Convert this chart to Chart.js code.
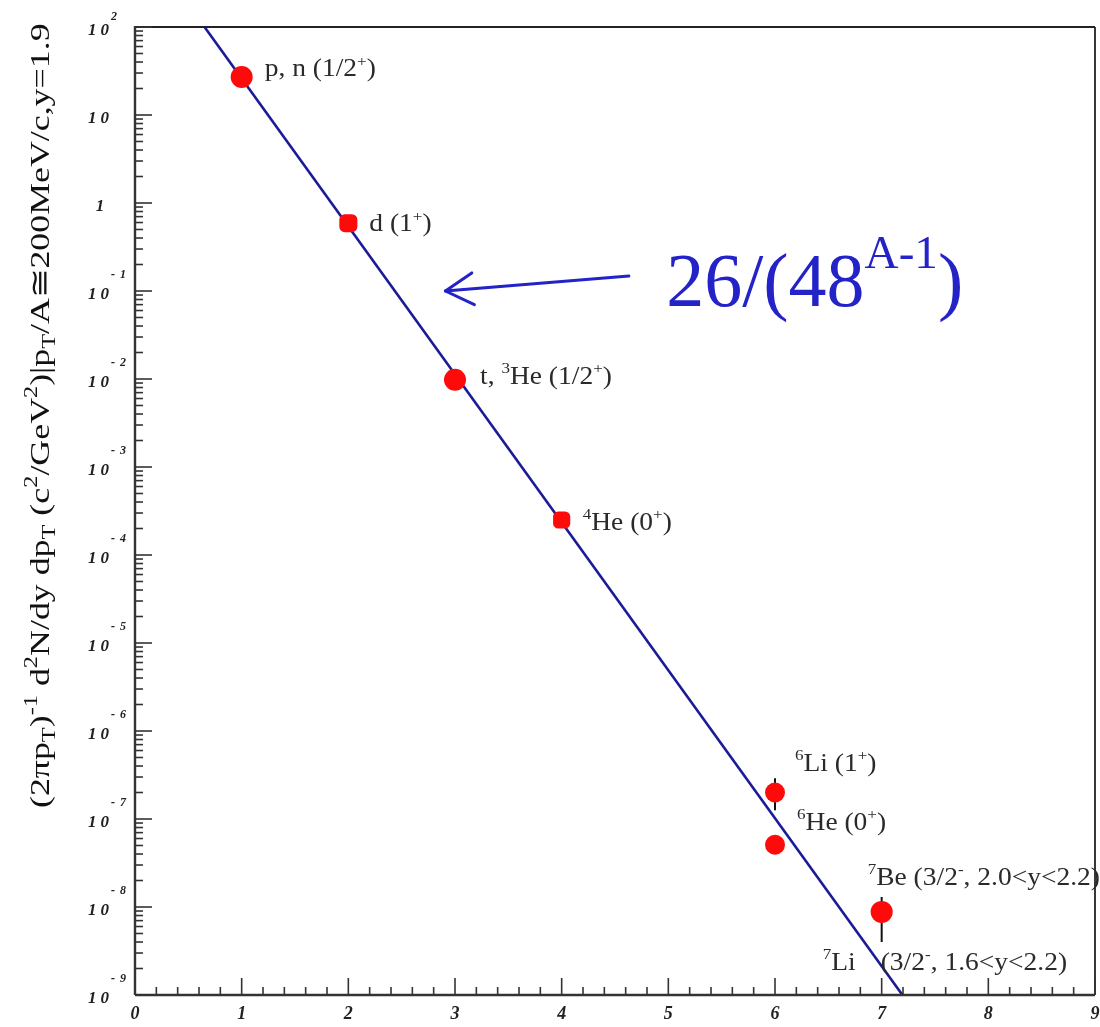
<!DOCTYPE html>
<html>
<head>
<meta charset="utf-8">
<script src="https://cdn.jsdelivr.net/npm/chart.js@4.4.1/dist/chart.umd.min.js"></script>
<style>
  html, body { margin: 0; padding: 0; background: #fff; }
  #wrap { width: 1100px; height: 1027px; }
</style>
</head>
<body>
<div id="wrap"><canvas id="chart" width="1100" height="1027"></canvas></div>
<script>
const SERIF = '"Liberation Serif", "DejaVu Serif", serif';

// measured invariant yields vs. mass number A
const massNumber = [1, 2, 3, 4, 6, 6, 7];
const yieldValues = [27, 0.59, 0.0098, 2.5e-4, 2.0e-7, 5.1e-8, 8.8e-9];
const yieldErrLow = [null, null, null, null, 1.26e-7, null, 4.0e-9];
const yieldErrHigh = [null, null, null, null, 2.9e-7, null, 1.3e-8];
const nuclideNames = [
  'p, n (1/2^{+})', 'd (1^{+})', 't, ^{3}He (1/2^{+})', '^{4}He (0^{+})',
  '^{6}Li (1^{+})', '^{6}He (0^{+})', '^{7}Be (3/2^{-}, 2.0<y<2.2)'
];

// fit 26/(48^(A-1)), drawn as a straight line on the log axis
const fitNorm = 26;
const fitBase = 48;
const fitRangeA = [0.5, 7.5];
const fitLabel = '26/(48^{A-1})';

// axis ticks
const xTickValues = [0, 1, 2, 3, 4, 5, 6, 7, 8, 9];
const xMinorPerUnit = 5;
const yDecades = [-9, -8, -7, -6, -5, -4, -3, -2, -1, 0, 1, 2];
const yMinorMultipliers = [2, 3, 4, 5, 6, 7, 8, 9];

const yTitle = '(2\u03c0p_{T})^{-1} d^{2}N/dy dp_{T} (c^{2}/GeV^{2})|p_{T}/A\u2245200MeV/c,y=1.9';

// label placement (pixels from the marker centre)
const noteOffsets = [[23, -1], [21, 8], [25, 4], [21, 10], [20, -22], [22, -15], [-14, -27]];
const extraNotes = [
  { at: 6, text: '^{7}Li', dx: -59, dy: 58 },
  { at: 6, text: '(3/2^{-}, 1.6<y<2.2)', dx: -1, dy: 58 }
];
const markerStyles = ['circle', 'rectRounded', 'circle', 'rectRounded', 'circle', 'circle', 'circle'];
const markerRadii = [11, 10.5, 11, 10, 10, 10, 11];

function fitValue(a) {
  return fitNorm / Math.pow(fitBase, a - 1);
}

function parseRich(str) {
  const segs = [];
  const re = /([\^_])\{([^}]*)\}/g;
  let last = 0, m;
  while ((m = re.exec(str))) {
    if (m.index > last) segs.push({ t: str.slice(last, m.index), k: 'n' });
    segs.push({ t: m[2], k: m[1] === '^' ? 'sup' : 'sub' });
    last = re.lastIndex;
  }
  if (last < str.length) segs.push({ t: str.slice(last), k: 'n' });
  return segs;
}

// text with ^{..} / _{..} runs; stretch widens the glyphs along the baseline
function drawRich(ctx, str, x, y, size, color, opts = {}) {
  const supScale = opts.supScale || 0.62;
  const supRise = opts.supRise || 0.42;
  const stretch = opts.stretch || 1;
  ctx.save();
  ctx.translate(x, y);
  ctx.scale(stretch, 1);
  ctx.fillStyle = color;
  ctx.textBaseline = 'alphabetic';
  ctx.textAlign = 'left';
  let cx = 0;
  for (const s of parseRich(str)) {
    const fs = s.k === 'n' ? size : size * supScale;
    const dy = s.k === 'sup' ? -size * supRise : s.k === 'sub' ? size * 0.22 : 0;
    ctx.font = `${fs}px ${SERIF}`;
    ctx.fillText(s.t, cx, dy);
    cx += ctx.measureText(s.t).width;
  }
  ctx.restore();
  return cx * stretch;
}

function seg(ctx, x1, y1, x2, y2) {
  ctx.beginPath();
  ctx.moveTo(x1, y1);
  ctx.lineTo(x2, y2);
  ctx.stroke();
}

// vertical error bars, behind the markers
const errorBars = {
  id: 'errorBars',
  beforeDatasetsDraw(chart) {
    const { ctx, scales: { x, y } } = chart;
    ctx.save();
    ctx.strokeStyle = '#111';
    ctx.lineWidth = 2;
    massNumber.forEach((a, i) => {
      if (yieldErrLow[i] == null) return;
      const px = x.getPixelForValue(a);
      seg(ctx, px, y.getPixelForValue(yieldErrLow[i]), px, y.getPixelForValue(yieldErrHigh[i]));
    });
    ctx.restore();
  }
};

// frame, inward ticks, tick labels, axis title and annotations
const decorations = {
  id: 'decorations',
  afterDraw(chart) {
    const { ctx, chartArea: a, scales: { x, y } } = chart;
    ctx.save();

    ctx.strokeStyle = '#222';
    ctx.lineWidth = 1.8;
    seg(ctx, a.left, a.top, a.right, a.top);
    seg(ctx, a.right, a.top, a.right, a.bottom);
    ctx.lineWidth = 2.4;
    ctx.strokeStyle = '#333';
    seg(ctx, a.left, a.top - 1, a.left, a.bottom);
    seg(ctx, a.left, a.bottom, a.right, a.bottom);

    // y ticks
    ctx.lineWidth = 1.6;
    yDecades.forEach((e, k) => {
      const py = y.getPixelForValue(Math.pow(10, e));
      seg(ctx, a.left, py, a.left + 17, py);
      if (k < yDecades.length - 1) {
        for (const m of yMinorMultipliers) {
          const p = y.getPixelForValue(m * Math.pow(10, e));
          seg(ctx, a.left, p, a.left + 8, p);
        }
      }
    });
    // x ticks
    xTickValues.forEach((v, k) => {
      const px = x.getPixelForValue(v);
      seg(ctx, px, a.bottom, px, a.bottom - 17);
      if (k < xTickValues.length - 1) {
        for (let j = 1; j < xMinorPerUnit; j++) {
          const p = x.getPixelForValue(v + j / xMinorPerUnit);
          seg(ctx, p, a.bottom, p, a.bottom - 8);
        }
      }
    });

    // y tick labels
    ctx.fillStyle = '#222';
    ctx.textBaseline = 'middle';
    ctx.letterSpacing = '4px';
    yDecades.forEach(e => {
      const py = y.getPixelForValue(Math.pow(10, e)) + 4;
      ctx.font = `italic bold 17px ${SERIF}`;
      if (e === 0) {
        ctx.textAlign = 'center';
        ctx.fillText('1', a.left - 33, py);
        return;
      }
      ctx.textAlign = 'right';
      ctx.fillText('10', a.left - 22, py);
      if (e === 1) return;
      ctx.letterSpacing = '1px';
      ctx.textAlign = 'left';
      ctx.font = `italic bold 12px ${SERIF}`;
      ctx.fillText(e < 0 ? '- ' + (-e) : String(e), a.left - 24, py - (e < 0 ? 20 : 14));
      ctx.letterSpacing = '4px';
    });
    ctx.letterSpacing = '0px';

    // x tick labels
    ctx.textAlign = 'center';
    ctx.font = `italic bold 18px ${SERIF}`;
    xTickValues.forEach(v => {
      ctx.fillText(String(v), x.getPixelForValue(v), a.bottom + 19);
    });

    // y title, reading bottom to top
    ctx.save();
    ctx.translate(49, 808);
    ctx.rotate(-Math.PI / 2);
    drawRich(ctx, yTitle, 0, 0, 28, '#111', { supScale: 0.68, stretch: 1.28 });
    ctx.restore();

    // nuclide labels
    const meta = chart.getDatasetMeta(1);
    const noteStyle = { stretch: 1.1 };
    nuclideNames.forEach((txt, i) => {
      const el = meta.data[i];
      drawRich(ctx, txt, el.x + noteOffsets[i][0], el.y + noteOffsets[i][1], 25, '#2a2a2a', noteStyle);
    });
    extraNotes.forEach(n => {
      const el = meta.data[n.at];
      drawRich(ctx, n.text, el.x + n.dx, el.y + n.dy, 25, '#2a2a2a', noteStyle);
    });

    // fit formula with arrow pointing at the line
    const blue = '#2323c8';
    const tail = { x: x.getPixelForValue(4.63), y: y.getPixelForValue(0.148) };
    const tip = { x: x.getPixelForValue(2.91), y: y.getPixelForValue(0.1) };
    ctx.strokeStyle = blue;
    ctx.lineWidth = 3;
    ctx.lineCap = 'round';
    seg(ctx, tail.x, tail.y, tip.x, tip.y);
    const ang = Math.atan2(tail.y - tip.y, tail.x - tip.x);
    for (const s of [-1, 1]) {
      const t = ang + s * 0.52;
      seg(ctx, tip.x, tip.y, tip.x + 32 * Math.cos(t), tip.y + 32 * Math.sin(t));
    }
    drawRich(ctx, fitLabel, x.getPixelForValue(4.98), y.getPixelForValue(0.068), 76, blue,
      { supScale: 0.62, supRise: 0.5 });

    ctx.restore();
  }
};

new Chart(document.getElementById('chart'), {
  type: 'scatter',
  data: {
    datasets: [
      {
        label: 'fit',
        data: fitRangeA.map(a => ({ x: a, y: fitValue(a) })),
        showLine: true,
        borderColor: '#1b1b98',
        borderWidth: 2.6,
        pointRadius: 0,
        order: 2
      },
      {
        label: 'yield',
        data: massNumber.map((a, i) => ({ x: a, y: yieldValues[i] })),
        pointStyle: markerStyles,
        pointRadius: markerRadii,
        backgroundColor: '#ff0a0a',
        borderColor: '#ff0a0a',
        borderWidth: 0,
        order: 1
      }
    ]
  },
  options: {
    responsive: false,
    animation: false,
    layout: { autoPadding: false, padding: { left: 135, top: 27, right: 5, bottom: 32 } },
    plugins: { legend: { display: false }, tooltip: { enabled: false } },
    scales: {
      x: { type: 'linear', min: 0, max: 9, display: false },
      y: { type: 'logarithmic', min: 1e-9, max: 1e2, display: false }
    }
  },
  plugins: [errorBars, decorations]
});
</script>
</body>
</html>
